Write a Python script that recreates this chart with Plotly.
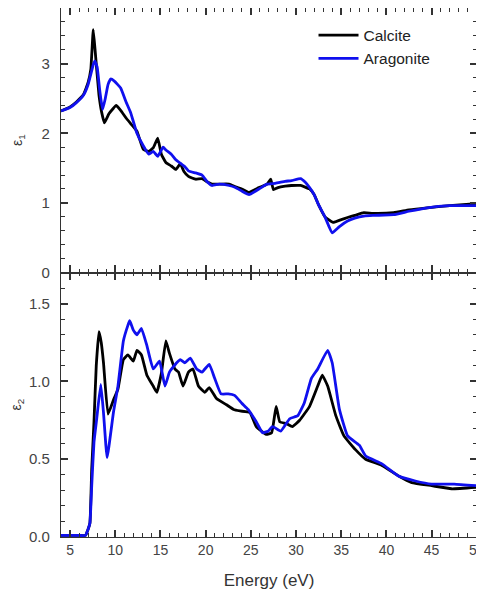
import plotly.graph_objects as go

# ε1 (top panel)
e1_cal_x = [4.0, 5.0, 5.7, 6.5, 7.0, 7.3, 7.57, 7.8, 8.2, 8.5, 8.8, 9.3, 9.8, 10.1, 10.6, 11.2, 11.7, 12.4, 13.1, 13.7, 14.2, 14.7, 15.1, 15.6, 16.2, 16.7, 17.2, 17.6, 18.1, 18.9, 19.6, 20.2, 20.7, 21.5, 22.6, 23.3, 24.0, 24.8, 25.9, 26.8, 27.2, 27.5, 28.0, 28.8, 29.5, 30.5, 31.5, 32.0, 32.5, 33.2, 34.1, 35.0, 35.7, 36.5, 37.5, 38.5, 40.8, 42.5, 44.5, 47.0, 50.0]
e1_cal_y = [2.32, 2.38, 2.45, 2.56, 2.73, 2.92, 3.49, 3.15, 2.55, 2.30, 2.15, 2.28, 2.36, 2.40, 2.33, 2.22, 2.14, 2.03, 1.77, 1.74, 1.79, 1.93, 1.70, 1.58, 1.53, 1.48, 1.56, 1.45, 1.38, 1.34, 1.35, 1.30, 1.27, 1.27, 1.27, 1.23, 1.20, 1.15, 1.22, 1.27, 1.34, 1.19, 1.22, 1.24, 1.25, 1.25, 1.20, 1.12, 0.97, 0.80, 0.72, 0.76, 0.79, 0.82, 0.86, 0.85, 0.86, 0.90, 0.93, 0.96, 0.99]
e1_ara_x = [4.0, 5.0, 5.7, 6.5, 7.0, 7.3, 7.6, 7.75, 8.0, 8.3, 8.6, 8.9, 9.2, 9.5, 9.9, 10.6, 11.2, 11.7, 12.4, 13.1, 13.7, 14.2, 14.7, 15.3, 15.6, 16.2, 16.7, 17.2, 17.7, 18.1, 18.9, 19.6, 20.2, 20.7, 21.5, 22.6, 23.3, 24.0, 24.8, 25.9, 26.8, 27.7, 28.8, 29.5, 30.5, 31.0, 31.5, 32.0, 32.5, 33.2, 34.0, 34.8, 35.7, 36.5, 37.5, 38.5, 40.8, 42.5, 44.5, 47.0, 50.0]
e1_ara_y = [2.32, 2.37, 2.44, 2.55, 2.70, 2.85, 3.00, 3.04, 2.95, 2.60, 2.34, 2.50, 2.70, 2.78, 2.75, 2.65, 2.45, 2.30, 2.00, 1.82, 1.70, 1.74, 1.67, 1.80, 1.76, 1.70, 1.62, 1.57, 1.52, 1.46, 1.43, 1.40, 1.30, 1.25, 1.27, 1.25, 1.22, 1.17, 1.12, 1.20, 1.27, 1.28, 1.31, 1.32, 1.35, 1.30, 1.22, 1.12, 0.97, 0.80, 0.57, 0.66, 0.74, 0.78, 0.81, 0.82, 0.83, 0.88, 0.93, 0.96, 0.96]

# ε2 (bottom panel)
e2_cal_x = [4.0, 5.0, 6.0, 6.7, 7.0, 7.2, 7.4, 7.65, 7.9, 8.2, 8.45, 8.7, 9.2, 9.8, 10.3, 10.9, 11.4, 12.0, 12.4, 12.9, 13.5, 14.2, 14.6, 15.1, 15.6, 16.0, 16.6, 17.0, 17.5, 18.1, 18.6, 19.2, 19.9, 20.4, 21.2, 22.3, 23.1, 23.8, 24.9, 25.6, 26.7, 27.3, 27.8, 28.2, 28.9, 29.6, 30.4, 31.5, 32.4, 32.9, 33.5, 34.4, 35.3, 36.6, 37.7, 39.5, 41.4, 42.8, 45.0, 47.2, 50.0]
e2_cal_y = [0.01, 0.01, 0.01, 0.01, 0.05, 0.09, 0.44, 0.74, 1.10, 1.32, 1.25, 1.12, 0.79, 0.88, 0.95, 1.14, 1.17, 1.13, 1.20, 1.17, 1.04, 0.97, 0.93, 1.05, 1.26, 1.18, 1.08, 1.06, 0.97, 1.06, 1.08, 0.97, 0.93, 0.96, 0.89, 0.85, 0.82, 0.81, 0.80, 0.71, 0.66, 0.67, 0.84, 0.74, 0.73, 0.71, 0.75, 0.84, 0.97, 1.04, 0.97, 0.78, 0.65, 0.56, 0.50, 0.46, 0.39, 0.35, 0.33, 0.31, 0.32]
e2_ara_x = [4.0, 5.0, 6.0, 6.7, 7.0, 7.2, 7.4, 7.65, 7.95, 8.4, 8.7, 9.1, 9.8, 10.3, 10.9, 11.4, 11.6, 12.0, 12.4, 12.9, 13.5, 14.2, 14.9, 15.5, 16.0, 16.8, 17.2, 17.7, 18.3, 19.0, 19.6, 20.4, 21.0, 21.7, 22.5, 23.2, 24.0, 24.7, 25.6, 26.3, 26.9, 27.4, 28.3, 29.3, 30.2, 30.9, 31.7, 32.4, 33.5, 34.0, 34.8, 35.7, 37.0, 37.7, 39.5, 41.4, 43.2, 45.0, 47.5, 50.0]
e2_ara_y = [0.01, 0.01, 0.01, 0.01, 0.05, 0.09, 0.33, 0.61, 0.76, 0.98, 0.80, 0.51, 0.80, 0.97, 1.26, 1.36, 1.39, 1.33, 1.30, 1.34, 1.23, 1.08, 1.13, 0.97, 1.06, 1.12, 1.14, 1.12, 1.15, 1.08, 1.06, 1.11, 1.02, 0.92, 0.92, 0.91, 0.86, 0.82, 0.74, 0.67, 0.68, 0.71, 0.68, 0.76, 0.78, 0.86, 1.02, 1.08, 1.20, 1.12, 0.82, 0.65, 0.59, 0.52, 0.47, 0.39, 0.36, 0.34, 0.34, 0.33]

X_RANGE = [4, 50.02]
Y1_RANGE = [0, 3.8]
Y2_RANGE = [0, 1.7]

BLACK = "#000000"
BLUE = "#1010ee"
FRAME = "#333333"
FONT = "Liberation Sans, Arial, sans-serif"
XTICKFONT = dict(family=FONT, size=14, color="#444444")
YTICKFONT = dict(family=FONT, size=15, color="#444444")
LW = 2.8
SMOOTH = 0.35

fig = go.Figure()
fig.add_trace(go.Scatter(x=e1_cal_x, y=e1_cal_y, mode="lines", name="Calcite",
                         line=dict(color=BLACK, width=LW, shape="spline", smoothing=SMOOTH),
                         xaxis="x", yaxis="y"))
fig.add_trace(go.Scatter(x=e1_ara_x, y=e1_ara_y, mode="lines", name="Aragonite",
                         line=dict(color=BLUE, width=LW, shape="spline", smoothing=SMOOTH),
                         xaxis="x", yaxis="y"))
fig.add_trace(go.Scatter(x=e2_cal_x, y=e2_cal_y, mode="lines", name="Calcite", showlegend=False,
                         line=dict(color=BLACK, width=LW, shape="spline", smoothing=SMOOTH),
                         xaxis="x2", yaxis="y2"))
fig.add_trace(go.Scatter(x=e2_ara_x, y=e2_ara_y, mode="lines", name="Aragonite", showlegend=False,
                         line=dict(color=BLUE, width=LW, shape="spline", smoothing=SMOOTH),
                         xaxis="x2", yaxis="y2"))
# empty traces to host the overlay axes that carry the minor ticks
fig.add_trace(go.Scatter(x=[], y=[], xaxis="x3", yaxis="y3", showlegend=False, hoverinfo="skip"))
fig.add_trace(go.Scatter(x=[], y=[], xaxis="x4", yaxis="y4", showlegend=False, hoverinfo="skip"))

major = dict(ticks="inside", ticklen=7, tickwidth=1.5, tickcolor=FRAME,
             showline=True, linecolor=FRAME, linewidth=1.3, mirror="allticks",
             showgrid=False, zeroline=False, automargin=False)
minor = dict(ticks="inside", ticklen=3.5, tickwidth=1.1, tickcolor=FRAME,
             showline=True, linecolor=FRAME, linewidth=1.3, mirror="allticks",
             showgrid=False, zeroline=False, automargin=False, showticklabels=False,
             tickmode="linear", tick0=0)

fig.update_layout(
    width=476, height=584,
    margin=dict(l=53, r=7, t=0, b=55),
    paper_bgcolor="white", plot_bgcolor="white",
    showlegend=True,
    legend=dict(x=0.607, y=0.98, xanchor="left", yanchor="top", bgcolor="rgba(0,0,0,0)",
                font=dict(family=FONT, size=15.5, color="#222222"),
                tracegroupgap=0, itemwidth=40),
    xaxis=dict(major, domain=[0, 1], anchor="y", range=X_RANGE, tickmode="linear", tick0=5, dtick=5,
               showticklabels=False),
    yaxis=dict(major, domain=[0.5, 1], anchor="x", range=Y1_RANGE,
               tickmode="linear", tick0=0, dtick=1, tickfont=YTICKFONT, ticklabelstandoff=7,
               title=dict(text="ε<sub>1</sub>", standoff=15,
                          font=dict(family=FONT, size=14, color="#333333"))),
    xaxis2=dict(major, domain=[0, 1], anchor="y2", range=X_RANGE, tickmode="linear", tick0=5, dtick=5,
                tickfont=XTICKFONT, ticklabelstandoff=0, ticklabeloverflow="allow",
                title=dict(text="Energy (eV)", standoff=17,
                           font=dict(family=FONT, size=17, color="#333333"))),
    yaxis2=dict(major, domain=[0, 0.5], anchor="x2", range=Y2_RANGE,
                tickmode="linear", tick0=0, dtick=0.5, tickformat=".1f",
                tickfont=YTICKFONT, ticklabelstandoff=7,
                title=dict(text="ε<sub>2</sub>", standoff=8,
                           font=dict(family=FONT, size=14, color="#333333"))),
    xaxis3=dict(minor, overlaying="x", anchor="y3", range=X_RANGE, dtick=1),
    yaxis3=dict(minor, overlaying="y", anchor="x3", range=Y1_RANGE, dtick=0.2),
    xaxis4=dict(minor, overlaying="x2", anchor="y4", range=X_RANGE, dtick=1),
    yaxis4=dict(minor, overlaying="y2", anchor="x4", range=Y2_RANGE, dtick=0.1),
)

fig.write_html("out.html")
